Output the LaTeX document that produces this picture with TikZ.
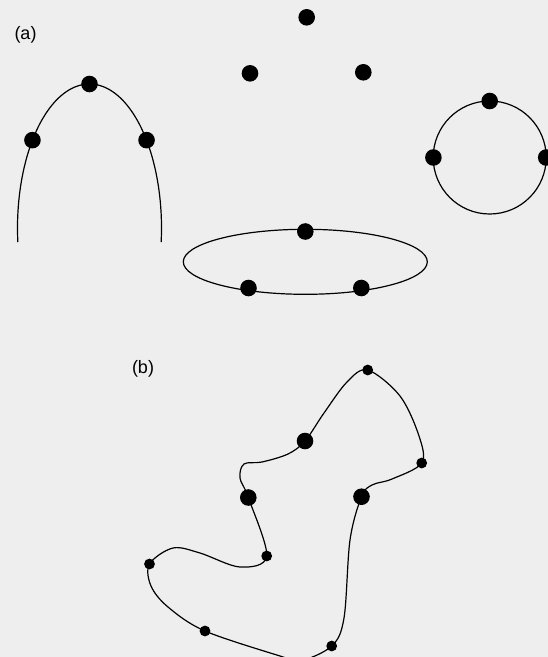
\documentclass[tikz,border=0pt]{standalone}
\usepackage{fontspec}
\setmainfont{Liberation Sans}
\usetikzlibrary{calc}
\definecolor{figPaper}{HTML}{EEEEEE}
\definecolor{figInk}{HTML}{000000}
\tikzset{
  curve/.style   = {line width=1.2pt, color=figInk, line join=round},
  bigpt/.style   = {circle, fill=figInk, inner sep=0, minimum size=16.6pt},
  smallpt/.style = {circle, fill=figInk, inner sep=0, minimum size=10.8pt},
  lbl/.style     = {font=\fontsize{18}{20}\selectfont, color=figInk, inner sep=0},
}

\begin{document}
\begin{tikzpicture}[x=1pt, y=-1pt]

\fill[figPaper] (0,0) rectangle (548,657);
\useasboundingbox (0,0) rectangle (548,657);
\clip (0,0) rectangle (548,657);

% ======================= (a) =======================
\node[lbl] (tagA) at (25.5,34.5) {(a)};

% open arch, part of an ellipse
\draw[curve] plot[domain=-5.6:185.6, samples=90, smooth]
  ({89.5+72*cos(\x)},{228-144*sin(\x)});
\node[bigpt] (archL) at ({89.5+72*cos(142.4)},{228-144*sin(142.4)}) {};
\node[bigpt] (archT) at (89.5,84) {};
\node[bigpt] (archR) at ({89.5+72*cos(37.6)},{228-144*sin(37.6)}) {};

% three free points
\node[bigpt] (freeT) at (306.7,17.3) {};
\node[bigpt] (freeL) at (250,73.3) {};
\node[bigpt] (freeR) at (363.3,72.3) {};

% flat ellipse
\draw[curve] (305.3,261.8) ellipse [x radius=122, y radius=32.5];
\node[bigpt] (ellT) at (305.3,231.5) {};
\node[bigpt] (ellL) at (248.5,288) {};
\node[bigpt] (ellR) at (361.3,288) {};

% circle
\draw[curve] (489.7,157.5) circle [radius=56.5];
\node[bigpt] (circT) at (489.7,101) {};
\node[bigpt] (circL) at (433.4,157.5) {};
\node[bigpt] (circR) at (546.2,157.5) {};

% ======================= (b) =======================
\node[lbl] (tagB) at (143,368.5) {(b)};

\draw[curve] plot[smooth cycle, tension=0.55] coordinates {
  (367.7,370) (400,396) (419,436) (421.7,463) (392,479) (372,485)
  (361.5,496.7) (350,540) (344,618) (331.7,646) (300,661) (280,656)
  (205,631) (168,607) (151,586) (149.5,564) (173,548) (200,553)
  (240,567) (266.7,556) (248.3,497.5) (240,478) (244,464) (262,462)
  (288,454) (305,441) (324,413) (347,382)};

\node[bigpt]   (bA) at (305,441) {};
\node[bigpt]   (bB) at (248.3,497.5) {};
\node[bigpt]   (bC) at (361.5,496.7) {};
\node[smallpt] (sA) at (367.7,370) {};
\node[smallpt] (sB) at (421.7,463) {};
\node[smallpt] (sC) at (266.7,556) {};
\node[smallpt] (sD) at (149.5,564) {};
\node[smallpt] (sE) at (205,631) {};
\node[smallpt] (sF) at (331.7,646) {};

\end{tikzpicture}
\end{document}
